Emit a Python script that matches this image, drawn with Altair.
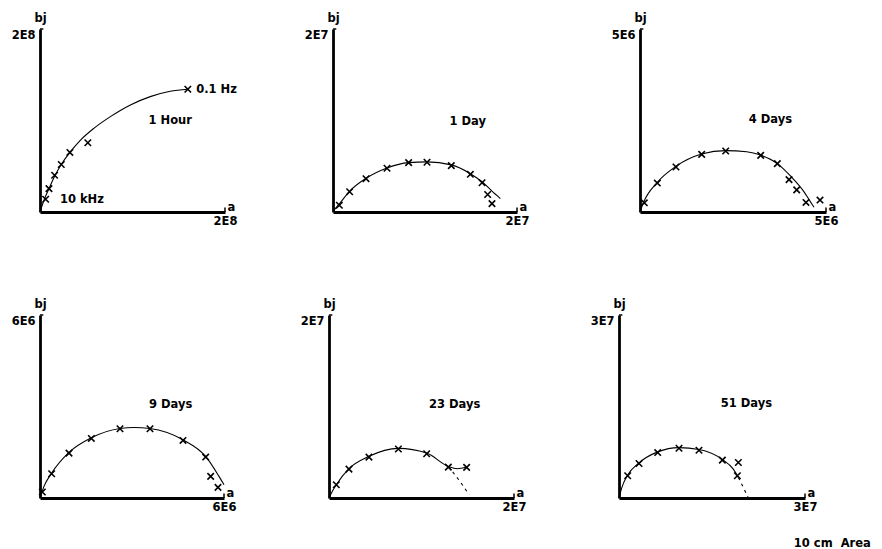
import altair as alt
import pandas as pd

FONT = "DejaVu Sans"
FS = 11.5

# ---- panel meta ----
panel_titles = ["1 Hour", "1 Day", "4 Days", "9 Days", "23 Days", "51 Days"]
axis_max = [2e8, 2e7, 5e6, 6e6, 2e7, 3e7]
axis_text = ["2E8", "2E7", "5E6", "6E6", "2E7", "3E7"]
# panel title positions (units of 1E6)
title_a = [140.8, 14.64, 3.504, 4.261, 13.59, 20.54]
title_b = [99.8, 9.81, 2.514, 3.055, 10.18, 15.33]

# ---- measured points (units of 1E6) ----
p1_pts_a = [6.1, 9.7, 15.8, 23.0, 32.3, 51.7, 159.8]
p1_pts_b = [13.9, 25.6, 40.2, 51.9, 65.1, 75.7, 134.2]
p1_line_a = [0, 4.3, 9.7, 15.8, 23.0, 32.3, 43.8, 58.2, 76.1, 97.7, 119.2, 140.8, 159.8]
p1_line_b = [0, 12.8, 25.6, 39.1, 51.9, 65.1, 78.6, 91.4, 104.2, 117.0, 126.1, 132.0, 134.2]

p2_pts_a = [0.69, 1.81, 3.59, 5.87, 8.22, 10.22, 12.86, 14.93, 16.20, 16.81, 17.28]
p2_pts_b = [0.74, 2.21, 3.64, 4.78, 5.40, 5.44, 5.07, 4.12, 3.20, 1.91, 0.92]
p2_line_a = [0.07, 0.69, 1.81, 3.59, 5.87, 8.22, 10.22, 12.86, 14.93, 16.20, 17.28, 18.19]
p2_line_b = [0.15, 0.88, 2.28, 3.68, 4.81, 5.40, 5.48, 5.15, 4.19, 3.31, 2.28, 1.47]

p3_pts_a = [0.116, 0.466, 0.968, 1.658, 2.303, 3.244, 3.692, 4.006, 4.212, 4.462, 4.839]
p3_pts_b = [0.251, 0.791, 1.229, 1.574, 1.667, 1.546, 1.322, 0.885, 0.605, 0.261, 0.326]
p3_line_a = [0, 0.090, 0.466, 0.968, 1.658, 2.303, 2.868, 3.244, 3.692, 4.077, 4.391, 4.570, 4.678]
p3_line_b = [0, 0.251, 0.810, 1.248, 1.583, 1.676, 1.648, 1.555, 1.322, 0.950, 0.577, 0.298, 0.130]

p4_pts_a = [0.076, 0.380, 0.946, 1.674, 2.609, 3.587, 4.663, 5.402, 5.565, 5.804]
p4_pts_b = [0.196, 0.796, 1.473, 1.953, 2.269, 2.269, 1.887, 1.342, 0.709, 0.349]
p4_line_a = [0, 0.130, 0.380, 0.946, 1.674, 2.609, 3.065, 3.587, 4.663, 5.402, 5.837, 6.0]
p4_line_b = [0, 0.382, 0.818, 1.495, 1.975, 2.280, 2.313, 2.280, 1.909, 1.364, 0.709, 0.436]

p5_pts_a = [0.79, 2.16, 4.32, 7.50, 10.56, 12.90, 14.88]
p5_pts_b = [1.45, 3.16, 4.47, 5.35, 4.84, 3.38, 3.35]
p5_line_a = [0, 0.36, 0.79, 2.16, 4.32, 7.50, 10.56, 12.90, 13.87, 14.88]
p5_line_b = [0, 0.73, 1.45, 3.20, 4.55, 5.42, 4.91, 3.45, 3.20, 3.38]
p5_dash_a = [12.90, 13.69, 14.41, 15.14]
p5_dash_b = [3.45, 2.44, 1.45, 0.36]

p6_pts_a = [1.40, 3.23, 6.24, 9.68, 12.90, 16.67, 19.25, 19.09]
p6_pts_b = [3.64, 5.65, 7.45, 8.15, 7.83, 6.20, 5.82, 3.64]
p6_line_a = [0, 0.43, 1.40, 3.23, 6.24, 9.68, 12.90, 16.67, 18.44, 19.25]
p6_line_b = [0, 1.63, 3.75, 5.76, 7.56, 8.26, 7.94, 6.31, 4.73, 3.37]
p6_dash_a = [19.25, 20.05, 20.86]
p6_dash_b = [3.37, 1.74, 0]

# ---- extra annotations (units of 1E6) ----
p1_notes = ["0.1 Hz", "10 kHz"]
p1_notes_a = [168.8, 21.5]
p1_notes_b = [133.5, 12.8]
p6_notes = ["10 cm\u00a0\u00a0Area"]
p6_notes_a = [28.2]
p6_notes_b = [-7.5]

M = 1e6
XSHAPE = "M-1,-1L1,1M1,-1L-1,1"


def df_ab(a, b, **extra):
    d = pd.DataFrame({"a": [v * M for v in a], "b": [v * M for v in b]})
    d["o"] = range(len(d))
    for k, v in extra.items():
        d[k] = v
    return d


def panel(i, pts, line, dash=None, notes=None, width=185, height=183):
    mx = axis_max[i]
    txt = axis_text[i]
    xs = alt.Scale(domain=[0, mx], nice=False, zero=True)
    ys = alt.Scale(domain=[0, mx], nice=False, zero=True)
    xax = alt.Axis(values=[mx], labelExpr=f"'{txt}'", title="a", grid=False,
                   ticks=False, tickSize=0, labelFlush=False, labelPadding=3,
                   domainColor="black", domainWidth=2.8,
                   titleX=width + 2, titleY=-2, titleAlign="left",
                   titleBaseline="alphabetic", titleAngle=0)
    yax = alt.Axis(values=[mx], labelExpr=f"'{txt}'", title="bj", grid=False,
                   ticks=False, tickSize=0, labelPadding=5, labelBaseline="top",
                   domainColor="black", domainWidth=2.8,
                   titleX=0, titleY=-8, titleAlign="center",
                   titleBaseline="alphabetic", titleAngle=0)
    X = alt.X("a:Q", scale=xs, axis=xax)
    Y = alt.Y("b:Q", scale=ys, axis=yax)

    layers = []
    layers.append(alt.Chart(df_ab(*line)).mark_line(
        color="black", strokeWidth=1.1, interpolate="monotone").encode(
        x=X, y=Y, order="o:Q"))
    if dash is not None:
        layers.append(alt.Chart(df_ab(*dash)).mark_line(
            color="black", strokeWidth=1.1, strokeDash=[3, 4],
            interpolate="monotone").encode(x=X, y=Y, order="o:Q"))
    layers.append(alt.Chart(df_ab(*pts)).mark_point(
        shape=XSHAPE, size=42, filled=False, color="black",
        strokeWidth=1.6, opacity=1).encode(x=X, y=Y))
    # small end ticks on axes
    tick_y = pd.DataFrame({"a": [0.0], "a2": [mx * 0.018], "b": [mx]})
    layers.append(alt.Chart(tick_y).mark_rule(color="black", strokeWidth=1.5).encode(
        x=X, x2="a2:Q", y=Y))
    tick_x = pd.DataFrame({"a": [mx], "b": [0.0], "b2": [mx * 0.025]})
    layers.append(alt.Chart(tick_x).mark_rule(color="black", strokeWidth=1.5).encode(
        x=X, y=Y, y2="b2:Q"))
    # panel title
    tdf = df_ab([title_a[i]], [title_b[i]], t=[panel_titles[i]])
    layers.append(alt.Chart(tdf).mark_text(
        font=FONT, fontSize=FS, fontWeight="bold", color="black",
        align="center", baseline="middle").encode(x=X, y=Y, text="t:N"))
    if notes is not None:
        ndf = df_ab(notes[1], notes[2], t=notes[0])
        layers.append(alt.Chart(ndf).mark_text(
            font=FONT, fontSize=FS, fontWeight="bold", color="black",
            align="left", baseline="middle").encode(x=X, y=Y, text="t:N"))
    return alt.layer(*layers).properties(width=width, height=height)


p1 = panel(0, (p1_pts_a, p1_pts_b), (p1_line_a, p1_line_b),
           notes=(p1_notes, p1_notes_a, p1_notes_b), width=185)
p2 = panel(1, (p2_pts_a, p2_pts_b), (p2_line_a, p2_line_b), width=184)
p3 = panel(2, (p3_pts_a, p3_pts_b), (p3_line_a, p3_line_b), width=186)
p4 = panel(3, (p4_pts_a, p4_pts_b), (p4_line_a, p4_line_b), width=184)
p5 = panel(4, (p5_pts_a, p5_pts_b), (p5_line_a, p5_line_b),
           dash=(p5_dash_a, p5_dash_b), width=185)
p6 = panel(5, (p6_pts_a, p6_pts_b), (p6_line_a, p6_line_b),
           dash=(p6_dash_a, p6_dash_b),
           notes=(p6_notes, p6_notes_a, p6_notes_b), width=186)

row1 = alt.hconcat(alt.hconcat(p1, p2, spacing=108, bounds="flush"), p3,
                   spacing=82)
row2 = alt.hconcat(p4, p5, p6, spacing=105, bounds="flush")

chart = alt.vconcat(row1, row2, spacing=71).properties(
    padding={"left": 11, "top": 12, "right": 5, "bottom": 5},
    background="white",
).configure_view(stroke=None).configure_axis(
    labelFont=FONT, labelFontSize=FS, labelFontWeight="bold", labelColor="black",
    titleFont=FONT, titleFontSize=FS, titleFontWeight="bold", titleColor="black",
)

chart.save("out.html", embed_options={"renderer": "svg", "actions": False})
